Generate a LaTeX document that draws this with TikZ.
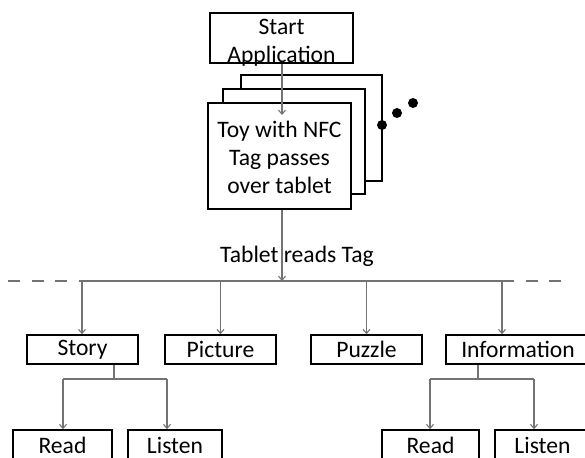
\documentclass[tikz,border=0pt]{standalone}
\usepackage{fontspec}
\setmainfont{Carlito}
\usetikzlibrary{arrows.meta}
\definecolor{linegray}{RGB}{115,115,115}
\tikzset{
  txt/.style={inner sep=0pt, align=center, font=\fontsize{23.6}{28}\selectfont},
  box/.style={draw=black, line width=1.6pt, fill=white, inner sep=0pt, align=center,
    font=\fontsize{23.6}{28}\selectfont},
  arr/.style={draw=linegray, line width=1.1pt, -{Straight Barb[length=4pt,width=7pt]}},
  conn/.style={draw=linegray, line width=1.1pt},
  dashline/.style={draw=linegray, line width=1.1pt, dash pattern=on 12pt off 11.5pt},
  dot/.style={circle, fill=black, inner sep=0pt, minimum size=10pt},
}
\begin{document}
\begin{tikzpicture}[x=1pt,y=-1pt]
\useasboundingbox (0,0) rectangle (585,457);
\clip (0,0) rectangle (585,457);
\fill[white] (0,0) rectangle (585,457);
% top
\node[box, minimum width=143pt, minimum height=50pt] (start) at (281.5,38) {};
\node[txt] (starttext) at ([yshift=-5pt]start.center) {Start\\Application};
\node[box, minimum width=141pt, minimum height=106pt] (back) at (311.5,128) {};
\node[box, minimum width=142pt, minimum height=105pt] (mid) at (294,141.5) {};
\node[box, minimum width=143pt, minimum height=106pt] (toy) at (279.5,156) {};
\node[txt] (toytext) at ([yshift=-1pt]toy.center) {Toy with NFC\\Tag passes\\over tablet};
\coordinate (toytip) at (282,115);
\draw[arr] (start.south -| toytip) -- (toytip);
\node[dot] (d1) at (382,125) {};
\node[dot] (d2) at (397,113) {};
\node[dot] (d3) at (413,103) {};
% main split line
\coordinate (L) at (82,281);
\coordinate (R) at (502,281);
\coordinate (hit) at (282,281);
\coordinate (dl) at (8,281);
\coordinate (dr) at (567,281);
\draw[arr] (toy.south -| hit) -- (hit);
\node[txt] (reads) at (297,256) {Tablet reads Tag};
\draw[dashline] (dl) -- (L);
\draw[dashline] (R) -- (dr);
\draw[conn] (L) -- (R);
% second row
\node[box, minimum width=111pt, minimum height=29pt] (story) at (82.5,349.5) {Story};
\node[box, minimum width=111pt, minimum height=29pt] (picture) at (220.5,349.5) {Picture};
\node[box, minimum width=111pt, minimum height=29pt] (puzzle) at (366.5,349.5) {Puzzle};
\node[box, minimum width=144pt, minimum height=29pt] (info) at (518,349.5) {Information};
\coordinate (bp) at (220.5,281);
\coordinate (bz) at (366.5,281);
\draw[arr] (L) -- (L |- story.north);
\draw[arr] (bp) -- (bp |- picture.north);
\draw[arr] (bz) -- (bz |- puzzle.north);
\draw[arr] (R) -- (R |- info.north);
% third row
\node[box, minimum width=99pt, minimum height=30pt] (sread) at (62.5,445) {Read};
\node[box, minimum width=94pt, minimum height=30pt] (slisten) at (175,445) {Listen};
\node[box, minimum width=97pt, minimum height=30pt] (iread) at (430.5,445) {Read};
\node[box, minimum width=95pt, minimum height=30pt] (ilisten) at (542.5,445) {Listen};
\coordinate (sj) at (114,379);
\coordinate (sl) at (63,379);
\coordinate (sr) at (167,379);
\draw[conn] (story.south -| sj) -- (sj);
\draw[conn] (sl) -- (sr);
\draw[arr] (sl) -- (sl |- sread.north);
\draw[arr] (sr) -- (sr |- slisten.north);
\coordinate (ij) at (478,379);
\coordinate (il) at (430,379);
\coordinate (ir) at (534,379);
\draw[conn] (info.south -| ij) -- (ij);
\draw[conn] (il) -- (ir);
\draw[arr] (il) -- (il |- iread.north);
\draw[arr] (ir) -- (ir |- ilisten.north);
\end{tikzpicture}
\end{document}
